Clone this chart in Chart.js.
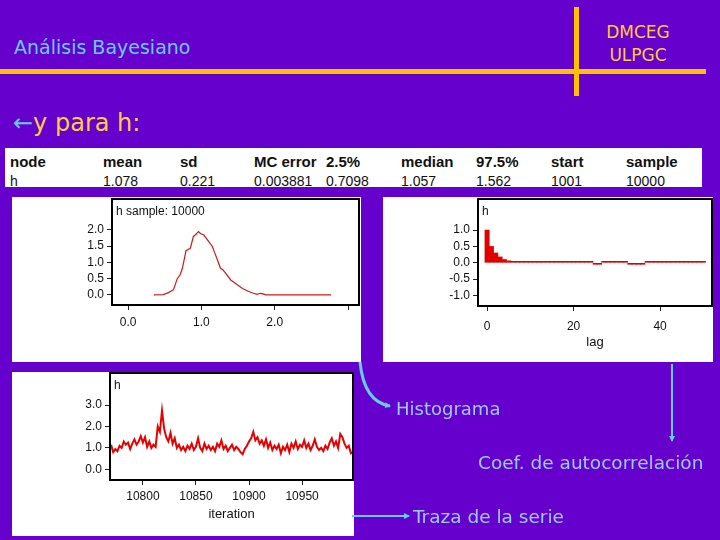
<!DOCTYPE html>
<html>
<head>
<meta charset="utf-8">
<script src="https://cdn.jsdelivr.net/npm/chart.js@4"></script>
<style>
  body { margin: 0; background: #6600cc; }
  #slide { position: relative; width: 720px; height: 540px; overflow: hidden; background: #6600cc; font-family: "DejaVu Sans", sans-serif; }
  .abs { position: absolute; white-space: nowrap; }
  .title { left: 14px; top: 36px; font-size: 19px; color: #66ccff; }
  .hline { left: 0; top: 69px; width: 706px; height: 5px; background: #ffc000; }
  .vline { left: 574px; top: 7px; width: 5px; height: 89px; background: #ffc000; }
  .org { left: 600px; top: 21px; font-size: 17px; line-height: 23px; color: #ffcc33; text-align: center; width: 76px; }
  .sub { left: 13px; top: 109px; font-size: 24px; color: #ffcc44; }
  .sub span { color: #66ccff; }
  #stats { left: 5px; top: 148px; width: 697px; height: 39px; background: #fff; overflow: hidden; font-family: "Liberation Sans", Arial, sans-serif; color: #111; }
  #stats div { position: absolute; white-space: nowrap; }
  .box { position: absolute; background: #fff; }
  .note { font-size: 18px; color: #99ccff; }
</style>
</head>
<body>
<div id="slide">
  <div class="abs title">Análisis Bayesiano</div>
  <div class="abs hline"></div>
  <div class="abs vline"></div>
  <div class="abs org">DMCEG<br>ULPGC</div>
  <div class="abs sub"><span>←</span>y para h:</div>
  <div class="abs" id="stats"></div>

  <div class="box" style="left:12px;top:197px;width:349px;height:165px"><canvas id="dens" width="349" height="165"></canvas></div>
  <div class="box" style="left:383px;top:197px;width:330px;height:165px"><canvas id="acf" width="330" height="165"></canvas></div>
  <div class="box" style="left:12px;top:372px;width:342px;height:164px"><canvas id="trace" width="342" height="164"></canvas></div>

  <svg class="abs" style="left:0;top:0" width="720" height="540">
    <defs>
      <marker id="hd" markerWidth="6" markerHeight="6" refX="5" refY="3" orient="auto" markerUnits="userSpaceOnUse">
        <path d="M0,0 L6,3 L0,6 z" fill="#66ccff"/>
      </marker>
    </defs>
    <path d="M360 362 Q364 402 390 406" stroke="#66ccff" stroke-width="3" fill="none" marker-end="url(#hd)"/>
    <path d="M672 364 L672 441" stroke="#66ccff" stroke-width="2" fill="none" marker-end="url(#hd)"/>
    <path d="M352 516 L409 516" stroke="#66ccff" stroke-width="2" fill="none" marker-end="url(#hd)"/>
  </svg>

  <div class="abs note" style="left:396px;top:398px">Histograma</div>
  <div class="abs note" style="left:478px;top:452px;font-size:18.5px">Coef. de autocorrelación</div>
  <div class="abs note" style="left:413px;top:506px;font-size:18.5px">Traza de la serie</div>
</div>

<script>
// summary table
var statHeads = ["node", "mean", "sd", "MC error", "2.5%", "median", "97.5%", "start", "sample"];
var statVals = ["h", "1.078", "0.221", "0.003881", "0.7098", "1.057", "1.562", "1001", "10000"];
var colLeft = [5, 98, 175, 249, 321, 396, 471, 546, 621];

// density (h sample: 10000)
var densX = [0.35, 0.48, 0.55, 0.62, 0.67, 0.71, 0.74, 0.79, 0.82, 0.85, 0.87, 0.89, 0.92, 0.96, 0.99, 1.03, 1.06, 1.10, 1.15, 1.18, 1.21, 1.26, 1.29, 1.33, 1.40, 1.49, 1.56, 1.63, 1.70, 1.76, 1.80, 1.84, 1.88, 2.77];
var densY = [0.00, 0.01, 0.07, 0.16, 0.50, 0.62, 0.82, 1.36, 1.40, 1.44, 1.62, 1.80, 1.85, 1.95, 1.88, 1.85, 1.76, 1.64, 1.49, 1.30, 1.13, 0.82, 0.78, 0.67, 0.46, 0.31, 0.20, 0.12, 0.06, 0.02, 0.05, 0.03, 0.00, 0.00];
var densXTicks = [0, 1, 2, 3];
var densXLabels = ["0.0", "1.0", "2.0", ""];
var densYTicks = [0, 0.5, 1, 1.5, 2];

// autocorrelation
var acfLags = [0, 1, 2, 3, 4, 5, 6, 7, 8, 9, 10, 11, 12, 13, 14, 15, 16, 17, 18, 19, 20, 21, 22, 23, 24, 25,
               26, 27, 28, 29, 30, 31, 32, 33, 34, 35, 36, 37, 38, 39, 40, 41, 42, 43, 44, 45, 46, 47, 48, 49, 50];
var acfVals = [1.0, 0.5, 0.3, 0.18, 0.1, 0.06, 0.03, 0.03, 0.03, 0.03, 0.03, 0.03, 0.03, 0.02, 0.01, 0.01, 0.01, 0.01, 0.01, 0.03, 0.03, 0.03, 0.01, 0.03, 0.01, -0.02,
               -0.03, 0.01, 0.01, 0.01, 0.01, 0.01, 0.01, -0.03, -0.03, -0.03, -0.01, 0.01, 0.01, 0.01, 0.01, 0.01, 0.01, 0.01, 0.01, 0.01, 0.01, 0.04, 0.04, 0.03, 0.01];
var acfXTicks = [0, 20, 40];
var acfYTicks = [-1, -0.5, 0, 0.5, 1];

// trace, every second iteration from 10770
var traceStart = 10770;
var traceVals = [1.15, 0.8, 0.95, 0.85, 1.1, 1.0, 1.3, 1.15, 1.25, 0.95, 1.2, 1.4, 1.15, 1.3, 1.55, 1.25,
                 1.5, 1.05, 1.3, 1.0, 1.15, 1.05, 2.0, 1.75, 2.75, 1.9, 1.5, 1.3, 1.7, 1.2, 1.45, 1.0, 1.15, 0.9, 1.05, 0.85, 1.1, 0.95, 1.2, 0.9, 1.05,
                 1.45, 1.0, 0.85, 1.2, 0.95, 1.1, 0.9, 1.05, 0.85, 1.2, 1.05, 1.35, 0.95, 1.1, 0.85, 1.0, 1.15, 0.9, 1.05, 0.95, 0.8, 0.7, 0.95, 1.1, 1.3,
                 1.45, 1.75, 1.35, 1.5, 1.2, 1.35, 1.1, 1.4, 1.0, 1.25, 0.9, 1.1, 0.95, 1.15, 0.75, 1.05, 0.9, 1.15, 0.8, 1.2, 1.0, 1.3, 0.95, 1.15, 1.05,
                 1.35, 1.0, 1.2, 0.9, 1.1, 1.4, 1.05, 0.9, 1.0, 0.85, 1.1, 0.95, 1.25, 1.45, 1.1, 1.3, 1.0, 1.65, 1.5, 1.2, 1.0, 1.1, 0.75, 0.8];
var traceXTicks = [10800, 10850, 10900, 10950];
var traceYTicks = [0, 1, 2, 3];

// table
var stats = document.getElementById("stats");
for (var i = 0; i < statHeads.length; i++) {
    var h = document.createElement("div");
    h.textContent = statHeads[i];
    h.style.cssText = "left:" + colLeft[i] + "px;top:5px;font-size:15px;font-weight:bold";
    stats.appendChild(h);
    var v = document.createElement("div");
    v.textContent = statVals[i];
    v.style.cssText = "left:" + colLeft[i] + "px;top:25px;font-size:14px";
    stats.appendChild(v);
}

Chart.defaults.font.family = "'Liberation Sans', Arial, sans-serif";
Chart.defaults.color = "#111";
Chart.defaults.animation = false;

// black box round the plot area and the small label in its corner
var framePlugin = {
    id: "frame",
    afterDraw: function(chart, args, opts) {
        var a = chart.chartArea, c = chart.ctx;
        c.save();
        c.strokeStyle = "#000";
        c.lineWidth = 2;
        c.strokeRect(a.left, a.top, a.right - a.left, a.bottom - a.top);
        c.fillStyle = "#111";
        c.font = "12px 'Liberation Sans', Arial, sans-serif";
        c.textBaseline = "top";
        c.fillText(opts.label, a.left + 4, a.top + 7);
        c.restore();
    }
};

function axis(min, max, ticks, fmt, size, pad) {
    return {
        type: "linear", min: min, max: max, offset: false,
        afterBuildTicks: function(s) { s.ticks = ticks.map(function(t) { return {value: t}; }); },
        ticks: {callback: fmt, autoSkip: false, maxRotation: 0, padding: pad, font: {size: 12}, color: "#111"},
        grid: {drawOnChartArea: false, offset: false, tickLength: 5, color: "#222"},
        border: {display: false},
        afterFit: function(s) {
            if (s.isHorizontal()) { s.height = size; s.paddingLeft = 0; s.paddingRight = 0; }
            else { s.width = size; s.paddingTop = 0; s.paddingBottom = 0; }
        }
    };
}
function fix1(v) { return v.toFixed(1); }

function baseOpts(label, padRight, padTop) {
    return {
        responsive: false,
        devicePixelRatio: 1,
        layout: {padding: {left: 0, top: padTop, right: padRight, bottom: 0}},
        plugins: {legend: {display: false}, tooltip: {enabled: false}, frame: {label: label}}
    };
}

// density
var o1 = baseOpts("h sample: 10000", 2, 2);
o1.scales = {
    x: axis(-0.22, 3.15, densXTicks, function(v, i) { return densXLabels[i]; }, 57, 5),
    y: axis(-0.31, 2.95, densYTicks, fix1, 100, 3)
};
new Chart(document.getElementById("dens"), {
    type: "line",
    data: {datasets: [{
        data: densX.map(function(x, i) { return {x: x, y: densY[i]}; }),
        borderColor: "#cc1a1a", borderWidth: 1.2, pointRadius: 0, tension: 0
    }]},
    options: o1,
    plugins: [framePlugin]
});

// autocorrelation
var o2 = baseOpts("h", 1, 2);
o2.scales = {
    x: axis(-2.1, 52, acfXTicks, function(v) { return String(v); }, 56, 8),
    y: axis(-1.32, 1.95, acfYTicks, fix1, 95, 3)
};
o2.scales.x.title = {display: true, text: "lag", font: {size: 13}, color: "#111", padding: {top: 0, bottom: 12}};
new Chart(document.getElementById("acf"), {
    type: "bar",
    data: {datasets: [{
        data: acfLags.map(function(l, i) { return {x: l, y: acfVals[i]}; }),
        backgroundColor: "#e00000", barPercentage: 1, categoryPercentage: 1, minBarLength: 1.5
    }]},
    options: o2,
    plugins: [framePlugin]
});

// trace
var o3 = baseOpts("h", 1, 1);
o3.scales = {
    x: axis(10769, 10998, traceXTicks, function(v) { return String(v); }, 56, 4),
    y: axis(-0.5, 4.5, traceYTicks, fix1, 98, 3)
};
o3.scales.x.title = {display: true, text: "iteration", font: {size: 13}, color: "#111", padding: {top: 0, bottom: 14}};
new Chart(document.getElementById("trace"), {
    type: "line",
    data: {datasets: [{
        data: traceVals.map(function(v, i) { return {x: traceStart + 2 * i, y: v}; }),
        borderColor: "#e80000", borderWidth: 2, pointRadius: 0, tension: 0
    }]},
    options: o3,
    plugins: [framePlugin]
});
</script>
</body>
</html>
